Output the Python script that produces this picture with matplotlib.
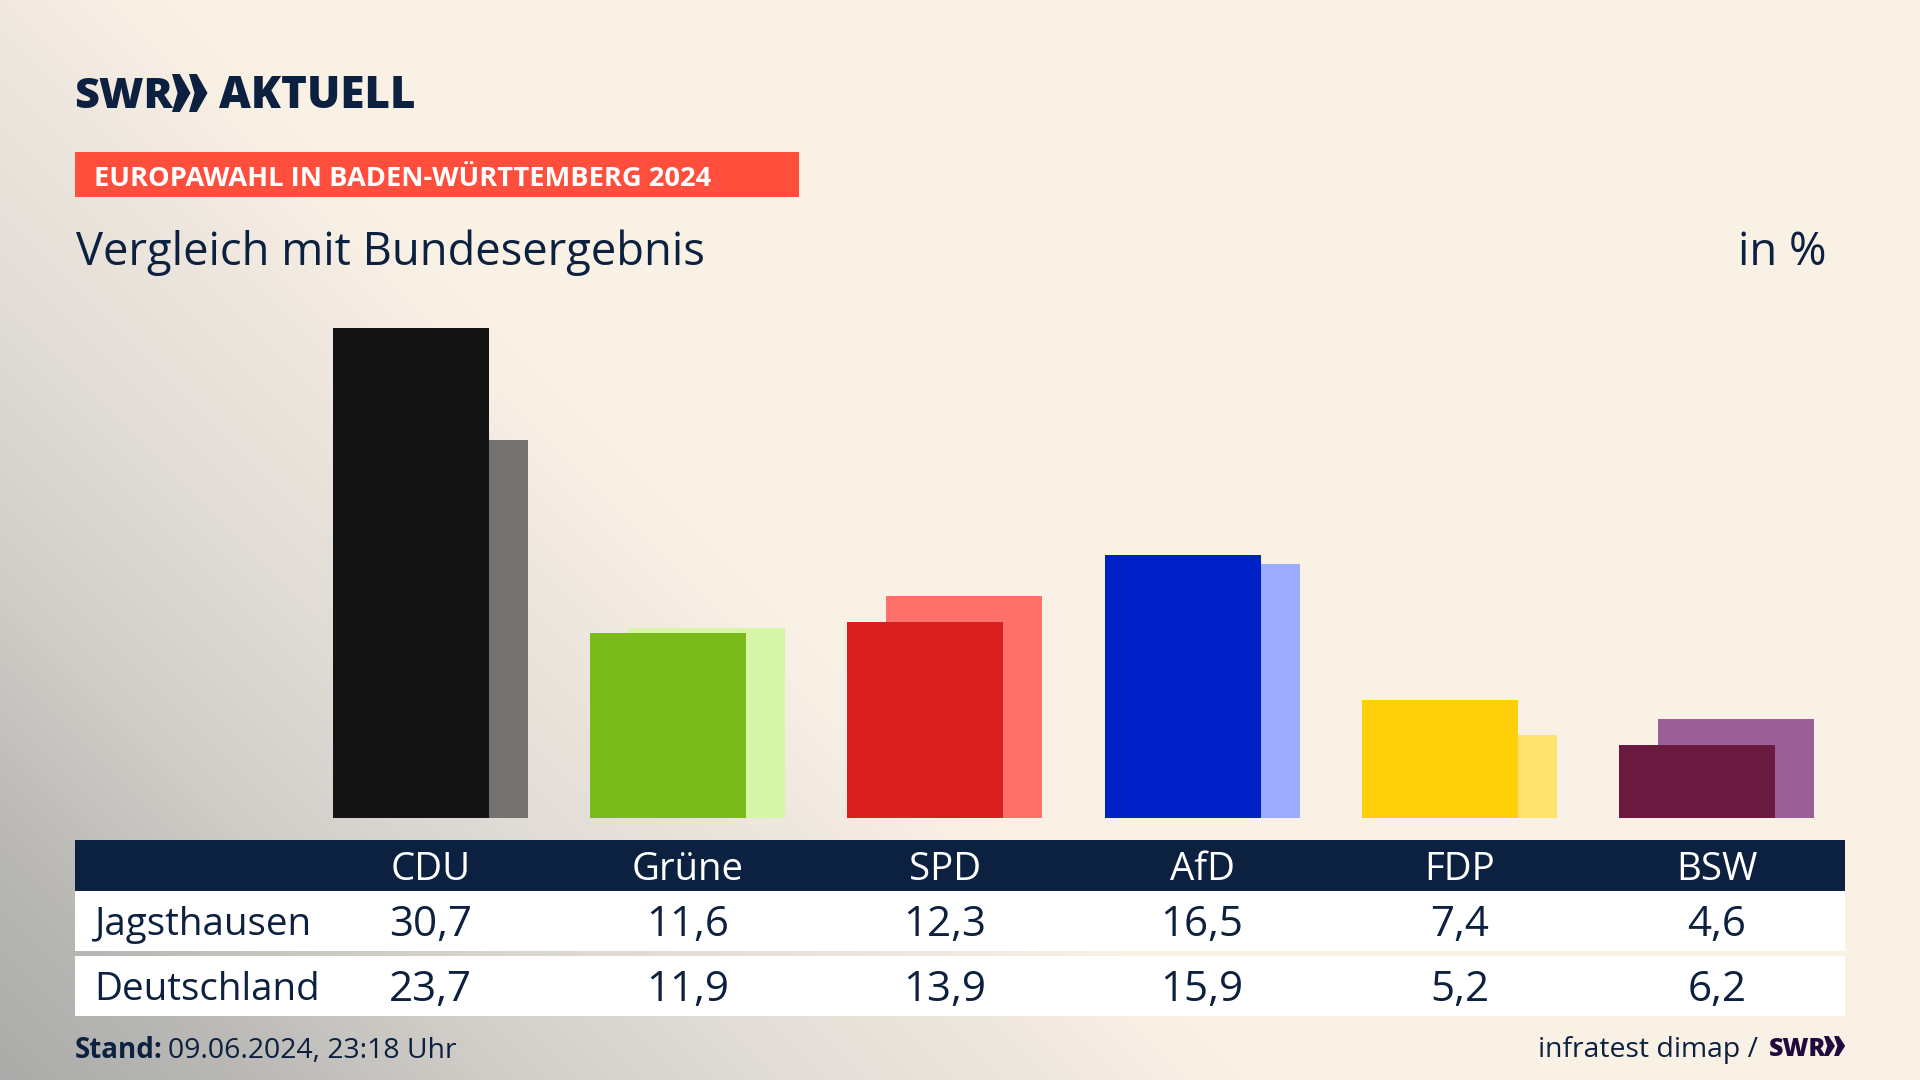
import numpy as np
import matplotlib
matplotlib.use("Agg")
import matplotlib.pyplot as plt
from matplotlib.patches import Rectangle, Polygon
from matplotlib.colors import LinearSegmentedColormap

parties = ["CDU", "Grüne", "SPD", "AfD", "FDP", "BSW"]
row_names = ["Jagsthausen", "Deutschland"]
local_values = [30.7, 11.6, 12.3, 16.5, 7.4, 4.6]
national_values = [23.7, 11.9, 13.9, 15.9, 5.2, 6.2]
front_colors = ["#131313", "#7ABB1B", "#D91F1F", "#0020C8", "#FFCF0A", "#6B1A3F"]
back_colors = ["#737270", "#D7F7A8", "#FF706A", "#9EACFF", "#FFE26E", "#9B5F97"]

NAVY = "#0C2040"
FONT = "Open Sans"
plt.rcParams["font.family"] = [FONT, "DejaVu Sans"]

W, H = 1920, 1080
fig = plt.figure(figsize=(W / 100, H / 100), dpi=100)

# background: 45-degree linear gradient
bg = fig.add_axes([0, 0, 1, 1], zorder=0)
yy, xx = np.mgrid[0:H:2, 0:W:2]
s = xx - yy
s_lo, s_hi = -1080, 170
stops = [(-1080, "#ABABAA"), (-840, "#B9B8B5"), (-600, "#CFCCC7"), (-300, "#E1DCD6"), (0, "#F1E9E0"), (170, "#FAF1E6")]
cmap = LinearSegmentedColormap.from_list("bg", [((v - s_lo) / (s_hi - s_lo), c) for v, c in stops])
bg.imshow(s, cmap=cmap, vmin=s_lo, vmax=s_hi, extent=[0, W, H, 0], aspect="auto", interpolation="bilinear")
bg.axis("off")

# pixel overlay for chrome and text
ov = fig.add_axes([0, 0, 1, 1], zorder=2)
ov.set_xlim(0, W)
ov.set_ylim(H, 0)
ov.axis("off")
ov.patch.set_alpha(0)

# bars
px_per_unit = 490 / 30.7
bar_left, bar_right, bar_base, bar_top = 75, 1845, 818, 300
ax = fig.add_axes([bar_left / W, 1 - bar_base / H, (bar_right - bar_left) / W, (bar_base - bar_top) / H], zorder=1)
ax.patch.set_alpha(0)
ax.axis("off")
ax.set_ylim(0, (bar_base - bar_top) / px_per_unit)
step = 257.3
first_center = 430.2
ax.set_xlim((bar_left - first_center) / step, (bar_right - first_center) / step)
x = np.arange(len(parties))
bw = 156 / step
off = 19.5 / step
ax.bar(x + off, national_values, width=bw, color=back_colors, linewidth=0, zorder=1)
ax.bar(x - off, local_values, width=bw, color=front_colors, linewidth=0, zorder=2)

# logo
ov.text(74, 97, "SWR", fontsize=31, fontweight=800, color=NAVY, va="center", ha="left")
ov.text(219, 97, "AKTUELL", fontsize=31.6, fontweight=800, color=NAVY, va="center", ha="left")


def chevrons(x0, y0, y1, w, color):
    mid = (y0 + y1) / 2
    for k in (0, 1):
        o = x0 + k * w * 0.92
        ov.add_patch(Polygon([(o, y0), (o + w * 0.42, y0), (o + w, mid), (o + w * 0.42, y1), (o, y1), (o + w * 0.3, mid)],
                             closed=True, color=color, linewidth=0))


chevrons(172, 74, 112, 18.5, NAVY)

# badge
ov.add_patch(Rectangle((75, 152), 724, 45, color="#FF4F3C", linewidth=0))
ov.text(94, 178.5, "EUROPAWAHL IN BADEN-WÜRTTEMBERG 2024", fontsize=19.65, fontweight="bold", color="white", va="center", ha="left")

# title
ov.text(75.5, 253, "Vergleich mit Bundesergebnis", fontsize=32.7, color=NAVY, va="center", ha="left")
ov.text(1826, 253, "in %", fontsize=32.7, color=NAVY, va="center", ha="right")

# table
ov.add_patch(Rectangle((75, 840), 1770, 51, color=NAVY, linewidth=0))
ov.add_patch(Rectangle((75, 891), 1770, 60, color="white", linewidth=0))
ov.add_patch(Rectangle((75, 956), 1770, 60, color="white", linewidth=0))
centers = [first_center + step * i for i in range(len(parties))]
for c, p in zip(centers, parties):
    ov.text(c, 870, p, fontsize=27.6, color="white", va="center", ha="center")
for name, vals, y in zip(row_names, [local_values, national_values], [925, 990]):
    ov.text(94, y, name, fontsize=27.7, color=NAVY, va="center", ha="left")
    for c, v in zip(centers, vals):
        ov.text(c, y, f"{v:.1f}".replace(".", ","), fontsize=30.3, color=NAVY, va="center", ha="center")

# footer
ov.text(75, 1051, "Stand:", fontsize=20, fontweight="bold", color=NAVY, va="center", ha="left")
ov.text(168, 1051, "09.06.2024, 23:18 Uhr", fontsize=20.4, color=NAVY, va="center", ha="left")
ov.text(1758, 1050, "infratest dimap /", fontsize=20.4, color=NAVY, va="center", ha="right")
ov.text(1769, 1050, "SWR", fontsize=18, fontweight=800, color="#220A3E", va="center", ha="left")
chevrons(1824, 1036, 1056, 11, "#220A3E")

fig.savefig("out.png", dpi=100)
